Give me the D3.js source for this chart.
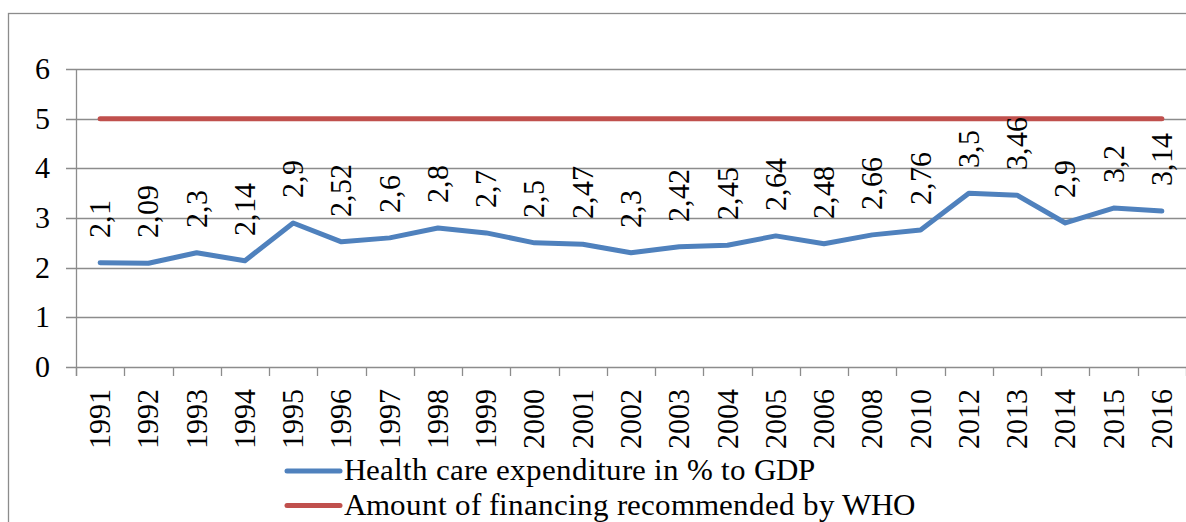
<!DOCTYPE html>
<html>
<head>
<meta charset="utf-8">
<script src="https://cdn.jsdelivr.net/npm/d3@7"></script>
<style>
  @font-face { font-family: "ChartSerif"; src: local("Liberation Serif"), local("LiberationSerif"), local("Liberation Serif Regular"), local("LiberationSerif-Regular"); }
</style>
</head>
<body style="margin:0">
<svg id="chart" width="1186" height="522"></svg>
<script>
const years = ['1991','1992','1993','1994','1995','1996','1997','1998','1999','2000','2001','2002',
    '2003','2004','2005','2006','2008','2010','2012','2013','2014','2015','2016'];
const healthValues = [2.1, 2.09, 2.3, 2.14, 2.9, 2.52, 2.6, 2.8, 2.7, 2.5, 2.47, 2.3,
    2.42, 2.45, 2.64, 2.48, 2.66, 2.76, 3.5, 3.46, 2.9, 3.2, 3.14];
const whoValues = [5, 5, 5, 5, 5, 5, 5, 5, 5, 5, 5, 5, 5, 5, 5, 5, 5, 5, 5, 5, 5, 5, 5];
const yTicks = [0, 1, 2, 3, 4, 5, 6];
const seriesNames = ['Health care expenditure in % to GDP', 'Amount of financing recommended by WHO'];
const colors = ['#4f81bd', '#c0504d'];

const width = 1186, height = 522;
const margin = {left: 76, right: 0, top: 69, bottom: 155};
const gridColor = '#8c8c8c';
const fontList = 'ChartSerif, "Times New Roman", Tinos, "Liberation Serif", serif';

const svg = d3.select('#chart');

const serifText = sel => sel.style('font-family', fontList);

// outer chart border (right/bottom edges fall outside the picture)
svg.append('rect')
    .attr('x', 8.5).attr('y', 13.5)
    .attr('width', 1300).attr('height', 600)
    .attr('fill', 'none')
    .attr('stroke', gridColor)
    .attr('stroke-width', 1.3);

const x = d3.scaleBand()
    .domain(years)
    .range([margin.left, width - margin.right]);

const y = d3.scaleLinear()
    .domain([0, 6])
    .range([height - margin.bottom, margin.top]);

// gridlines
svg.append('g')
    .selectAll('line')
    .data(yTicks)
    .join('line')
    .attr('x1', margin.left - 10)
    .attr('x2', width)
    .attr('y1', d => Math.round(y(d)) + 0.5)
    .attr('y2', d => Math.round(y(d)) + 0.5)
    .attr('stroke', gridColor)
    .attr('stroke-width', 1.3);

// y axis line
svg.append('line')
    .attr('x1', margin.left + 0.5).attr('x2', margin.left + 0.5)
    .attr('y1', y(6)).attr('y2', y(0) + 9)
    .attr('stroke', gridColor)
    .attr('stroke-width', 1.3);

svg.append('g')
    .selectAll('text')
    .data(yTicks)
    .join('text')
    .attr('x', 50)
    .attr('y', d => y(d) + 10)
    .attr('text-anchor', 'end')
    .attr('font-size', 30)
    .call(serifText)
    .text(d => d);

// x ticks between categories
const xTickPos = years.map(d => x(d)).concat([x.range()[1]]);
svg.append('g')
    .selectAll('line')
    .data(xTickPos)
    .join('line')
    .attr('x1', d => Math.round(d) + 0.5)
    .attr('x2', d => Math.round(d) + 0.5)
    .attr('y1', y(0))
    .attr('y2', y(0) + 9)
    .attr('stroke', gridColor)
    .attr('stroke-width', 1.3);

svg.append('g')
    .selectAll('text')
    .data(years)
    .join('text')
    .attr('transform', d => `translate(${x(d) + x.bandwidth() / 2 + 10},${y(0) + 22}) rotate(-90)`)
    .attr('text-anchor', 'end')
    .attr('font-size', 30)
    .call(serifText)
    .text(d => d);

const line = d3.line()
    .x((d, i) => x(years[i]) + x.bandwidth() / 2)
    .y(d => y(d));

svg.append('path')
    .datum(whoValues)
    .attr('d', line)
    .attr('fill', 'none')
    .attr('stroke', colors[1])
    .attr('stroke-width', 5)
    .attr('stroke-linecap', 'round');

svg.append('path')
    .datum(healthValues)
    .attr('d', line)
    .attr('fill', 'none')
    .attr('stroke', colors[0])
    .attr('stroke-width', 5)
    .attr('stroke-linejoin', 'round')
    .attr('stroke-linecap', 'round');

// data labels, rotated, above the points
svg.append('g')
    .selectAll('text')
    .data(healthValues)
    .join('text')
    .attr('transform', (d, i) => `translate(${x(years[i]) + x.bandwidth() / 2 + 10},${y(d) - 25}) rotate(-90)`)
    .attr('text-anchor', 'start')
    .attr('font-size', 30)
    .call(serifText)
    .text(d => String(d).replace('.', ','));

// legend
const legend = svg.append('g')
    .selectAll('g')
    .data(seriesNames)
    .join('g')
    .attr('transform', (d, i) => `translate(285,${471 + i * 34.5})`);
legend.append('line')
    .attr('x1', 2).attr('x2', 55)
    .attr('stroke', (d, i) => colors[i])
    .attr('stroke-width', 5)
    .attr('stroke-linecap', 'round');
legend.append('text')
    .attr('x', 59)
    .attr('y', 9)
    .attr('font-size', 31)
    .call(serifText)
    .text(d => d);
</script>
</body>
</html>
